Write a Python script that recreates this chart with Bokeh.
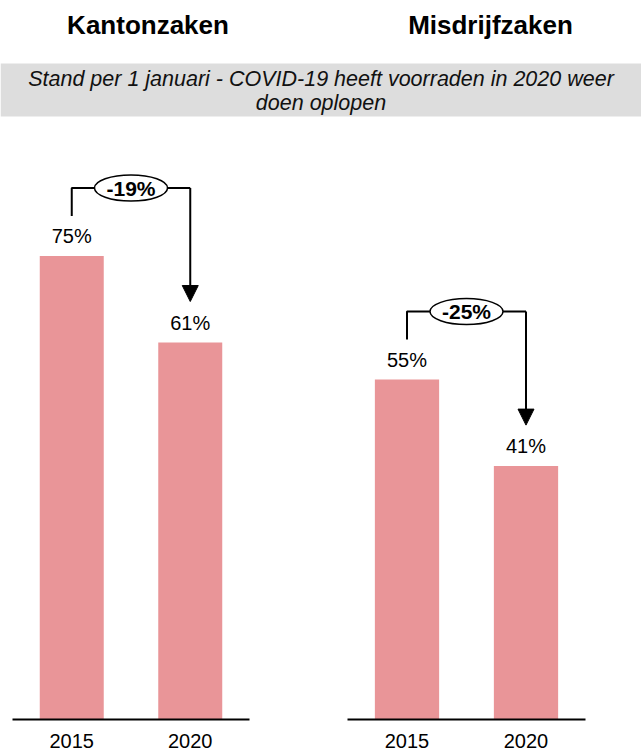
from bokeh.plotting import figure
from bokeh.layouts import column, row
from bokeh.models import ColumnDataSource, Range1d, FactorRange, Arrow, NormalHead
from bokeh.core.properties import value
from bokeh.embed import file_html
from bokeh.resources import INLINE

# ---- data ----
panel_titles = ["Kantonzaken", "Misdrijfzaken"]
years = ["2015", "2020"]
kantonzaken = [75, 61]
misdrijfzaken = [55, 41]
subtitle_lines = ["Stand per 1 januari - COVID-19 heeft voorraden in 2020 weer",
                  "doen oplopen"]

FONT = "Liberation Sans"
BAR_COLOR = "#E99598"
PX_PER_PCT = 6.18
FRAME_H = 589
Y_END = FRAME_H / PX_PER_PCT


def panel(vals, width, border_left, border_right):
    p = figure(width=width, height=621,
               x_range=FactorRange(*years, range_padding=0),
               y_range=Range1d(0, Y_END),
               output_backend="svg", toolbar_location=None,
               y_axis_location=None,
               min_border_left=border_left, min_border_right=border_right,
               min_border_top=0, min_border_bottom=32)
    p.outline_line_color = None
    p.xgrid.visible = False
    p.ygrid.visible = False
    p.background_fill_color = "white"
    p.border_fill_color = "white"

    src = ColumnDataSource(dict(x=years, top=vals, lab=[f"{v}%" for v in vals]))
    p.vbar(x="x", top="top", width=0.54, source=src,
           fill_color=BAR_COLOR, line_color=None)
    p.text(x="x", y="top", text="lab", source=src, text_align="center",
           text_baseline="alphabetic", y_offset=-20,
           text_font=value(FONT), text_font_size="20px", text_color="black")

    # change bracket
    xs = [i + 0.5 for i in range(len(years))]
    v1, v2 = vals
    y_br = v1 + 68 / PX_PER_PCT
    y_stub = v1 + 40 / PX_PER_PCT
    y_tip = v2 + 41 / PX_PER_PCT
    p.line(x=[xs[0], xs[0], xs[1]], y=[y_stub, y_br, y_br],
           line_color="black", line_width=2)
    p.add_layout(Arrow(end=NormalHead(size=16, fill_color="black", line_color="black"),
                       x_start=xs[1], y_start=y_br, x_end=xs[1], y_end=y_tip,
                       line_color="black", line_width=2))
    xm = (xs[0] + xs[1]) / 2
    change = round((v2 - v1) / v1 * 100)
    p.ellipse(x=[xm], y=[y_br], width=73, height=26,
              width_units="screen", height_units="screen",
              fill_color="white", line_color="black", line_width=1.5)
    p.text(x=[xm], y=[y_br], text=[f"{change}%"], text_align="center",
           text_baseline="middle", text_font=value(FONT), text_font_size="21px",
           text_font_style="bold", text_color="black")

    ax = p.xaxis[0]
    ax.major_tick_line_color = None
    ax.minor_tick_line_color = None
    ax.axis_line_color = "black"
    ax.axis_line_width = 2
    ax.major_label_text_font = FONT
    ax.major_label_text_font_size = "20px"
    ax.major_label_text_color = "black"
    ax.major_label_standoff = 8
    return p


# ---- header ----
hdr = figure(width=641, height=130, x_range=Range1d(0, 641), y_range=Range1d(130, 0),
             output_backend="svg", toolbar_location=None,
             x_axis_location=None, y_axis_location=None,
             min_border=0)
hdr.outline_line_color = None
hdr.xgrid.visible = False
hdr.ygrid.visible = False
hdr.quad(left=[0], right=[641], top=[63], bottom=[116],
         fill_color="#DDDDDD", line_color=None)
hdr.text(x=[147.5, 490], y=[24, 24], text=panel_titles, text_align="center",
         text_baseline="alphabetic", text_font=value(FONT), text_font_size="26px",
         text_font_style="bold", text_color="black")
hdr.text(x=[320.5, 320.5], y=[78, 102], text=subtitle_lines, text_align="center",
         text_baseline="alphabetic", text_font=value(FONT), text_font_size="21.5px",
         text_font_style="italic", text_color="#111111")

left = panel(kantonzaken, 298, 12, 49)
right = panel(misdrijfzaken, 343, 49, 56)

layout = column(hdr, row(left, right, spacing=0), spacing=0)
open("out.html", "w").write(file_html(layout, INLINE))
